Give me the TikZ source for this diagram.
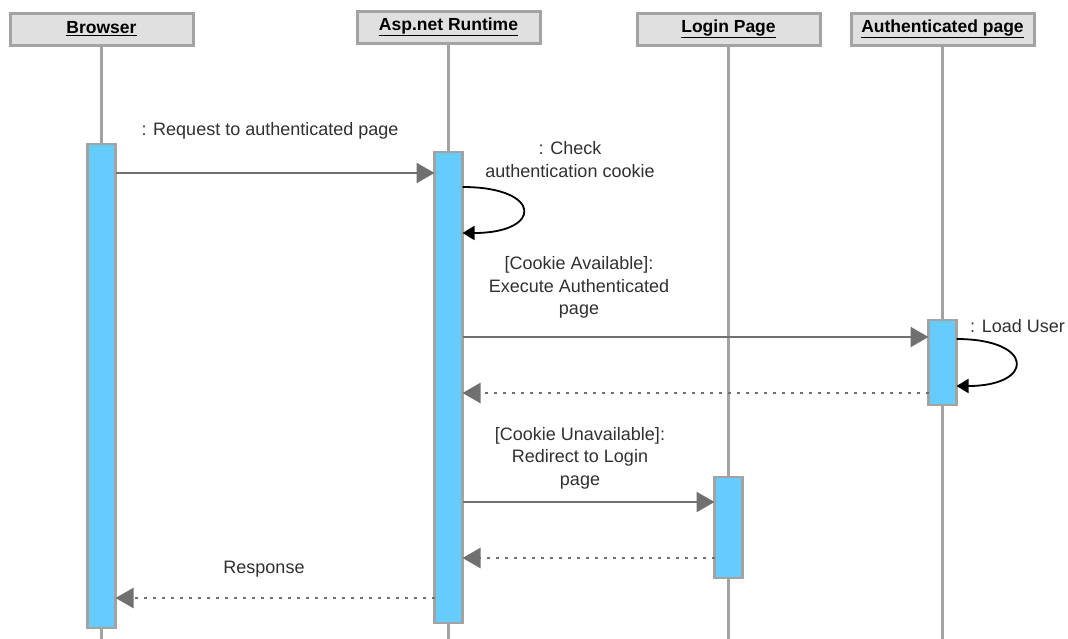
\documentclass[tikz,border=0pt]{standalone}
\usepackage{fontspec}
\setmainfont{Liberation Sans}
\usetikzlibrary{arrows.meta}
\definecolor{headfill}{HTML}{E0E0E0}
\definecolor{framegray}{HTML}{A3A3A3}
\definecolor{barfill}{HTML}{66CCFF}
\definecolor{msggray}{HTML}{707070}
\definecolor{txt}{HTML}{303030}
\tikzset{
  header/.style={draw=framegray, line width=3pt, fill=headfill, minimum width=183pt,
    minimum height=32pt, inner sep=0pt, font=\fontsize{17.5}{20}\selectfont\bfseries, text=black},
  lifeline/.style={draw=framegray, line width=2.5pt},
  actbar/.style={draw=framegray, line width=2.5pt, fill=barfill, minimum width=28pt,
    inner sep=0pt, outer sep=0pt},
  msg/.style={draw=msggray, line width=2.5pt, -{Triangle[length=18pt,width=20pt]}, color=msggray},
  reply/.style={msg, dash pattern=on 2.5pt off 6.5pt},
  selfcall/.style={draw=black, line width=1.8pt, -{Triangle[length=12pt,width=14pt]}},
  lbl/.style={font=\fontsize{18}{22.5}\selectfont, text=txt, align=center, inner sep=0pt}
}
\begin{document}
\begin{tikzpicture}[x=1pt, y=-1pt]
\path[use as bounding box] (0,0) rectangle (1068,638);

% participants
\node[header] (browser) at (101.5,29) {\underline{Browser}};
\node[header] (asp)     at (448.5,27) {\underline{Asp.net Runtime}};
\node[header] (login)   at (728.5,29) {\underline{Login Page}};
\node[header] (auth)    at (942.5,29) {\underline{Authenticated page}};

% lifelines run to the bottom edge
\coordinate (browserend) at (101.5,640);
\coordinate (aspend)     at (448.5,640);
\coordinate (loginend)   at (728.5,640);
\coordinate (authend)    at (942.5,640);
\draw[lifeline] (browser.south) -- (browserend);
\draw[lifeline] (asp.south) -- (aspend);
\draw[lifeline] (login.south) -- (loginend);
\draw[lifeline] (auth.south) -- (authend);

% activation bars
\node[actbar, minimum height=484pt] (browserbar) at (101.5,386) {};
\node[actbar, minimum height=471pt] (aspbar)     at (448.5,387.5) {};
\node[actbar, minimum height=85pt]  (authbar)    at (942.5,362.5) {};
\node[actbar, minimum height=101pt] (loginbar)   at (728.5,527.5) {};

% request from the browser
\draw[msg] (browserbar.east |- 0,173) -- (aspbar.west |- 0,173);
\node[lbl] (reqlbl) at (270,131) {: Request to authenticated page};

% cookie check on the runtime
\draw[selfcall] (aspbar.east |- 0,187) .. controls (543,187) and (543,233) .. (aspbar.east |- 0,233);
\node[lbl] (checklbl) at (570,159.5) {: Check\\authentication cookie};

% cookie available branch
\node[lbl] (availlbl) at (579,287.5) {[Cookie Available]:\\Execute Authenticated\\page};
\draw[msg] (aspbar.east |- 0,337) -- (authbar.west |- 0,337);
\draw[selfcall] (authbar.east |- 0,339) .. controls (1035,339) and (1035,386) .. (authbar.east |- 0,386);
\node[lbl, anchor=west] (loadlbl) at (970,326) {: Load User};
\draw[reply] (authbar.west |- 0,393) -- (aspbar.east |- 0,393);

% cookie unavailable branch
\node[lbl] (unavaillbl) at (580,458) {[Cookie Unavailable]:\\Redirect to Login\\page};
\draw[msg] (aspbar.east |- 0,502) -- (loginbar.west |- 0,502);
\draw[reply] (loginbar.west |- 0,558) -- (aspbar.east |- 0,558);

% response to the browser
\node[lbl] (resplbl) at (264,569) {Response};
\draw[reply] (aspbar.west |- 0,598) -- (browserbar.east |- 0,598);
\end{tikzpicture}
\end{document}
